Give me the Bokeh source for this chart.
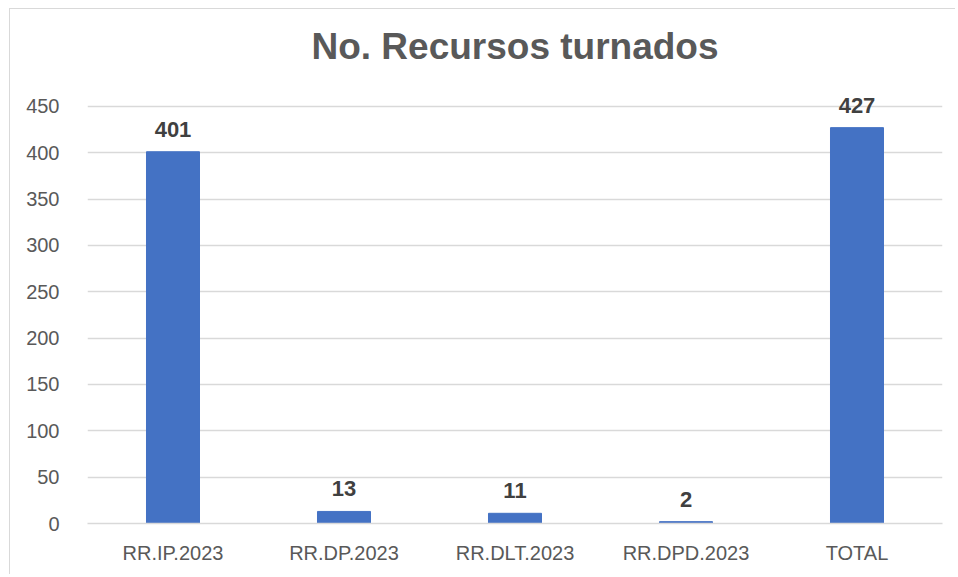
from bokeh.plotting import figure
from bokeh.models import ColumnDataSource, Range1d, FixedTicker, LabelSet
from bokeh.core.properties import value
from bokeh.embed import file_html
from bokeh.resources import INLINE

categories = ["RR.IP.2023", "RR.DP.2023", "RR.DLT.2023", "RR.DPD.2023", "TOTAL"]
values = [401, 13, 11, 2, 427]
y_ticks = [0, 50, 100, 150, 200, 250, 300, 350, 400, 450]

src = ColumnDataSource(dict(cat=categories, val=values, lab=[str(v) for v in values]))

p = figure(x_range=categories, y_range=Range1d(0, 480), width=946, height=566,
           output_backend="svg", toolbar_location=None,
           min_border_left=77, min_border_right=14, min_border_top=69, min_border_bottom=52,
           styles={"border-left": "1px solid #d9d9d9", "border-top": "1px solid #d9d9d9",
                   "margin-left": "9px", "margin-top": "8px"})

p.vbar(x="cat", top="val", width=0.31, source=src, color="#4472C4")

labels = LabelSet(x="cat", y="val", text="lab", source=src, text_align="center",
                  text_baseline="bottom", y_offset=15, text_font=value("Liberation Sans"),
                  text_font_style="bold", text_font_size="22px", text_color="#404040")
p.add_layout(labels)

p.title.text = "No. Recursos turnados"
p.title.align = "center"
p.title.text_font = "Liberation Sans"
p.title.text_font_style = "bold"
p.title.text_font_size = "37px"
p.title.text_color = "#595959"
p.title.standoff = 23

p.outline_line_color = None
p.xgrid.grid_line_color = None
p.ygrid.grid_line_color = "#d9d9d9"
p.ygrid.grid_line_width = 1.5
p.yaxis.ticker = FixedTicker(ticks=y_ticks)

for ax in (p.xaxis, p.yaxis):
    ax.axis_line_color = None
    ax.major_tick_line_color = None
    ax.minor_tick_line_color = None
    ax.major_label_text_font = "Liberation Sans"
    ax.major_label_text_font_size = "20px"
    ax.major_label_text_color = "#595959"

p.xaxis.axis_line_color = "#d9d9d9"
p.xaxis.axis_line_width = 1.5
p.xaxis.major_label_standoff = 12
p.yaxis.major_label_standoff = 22
p.x_range.range_padding = 0.0

open("out.html", "w").write(file_html(p, INLINE))
